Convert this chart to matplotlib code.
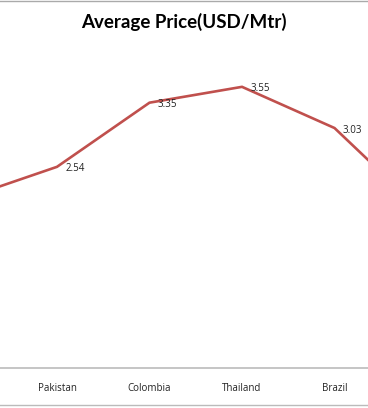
import matplotlib
matplotlib.use("Agg")
import matplotlib.pyplot as plt

# categories (the first and last are cut off in the picture)
countries = ["", "Pakistan", "Colombia", "Thailand", "Brazil", ""]
prices = [2.14, 2.54, 3.35, 3.55, 3.03, 1.92]
shown = [False, True, True, True, True, False]

W, H = 368, 408
fig = plt.figure(figsize=(W / 100, H / 100), dpi=100)

# axes span the whole width; x axis sits at pixel row 368
ax = fig.add_axes([0, (H - 368) / H, 1, 368 / H])
x = list(range(len(countries)))
ax.plot(x, prices, color="#C0504D", lw=1.9, solid_joinstyle="miter")

for xi, p, s in zip(x, prices, shown):
    if s:
        ax.annotate(f"{p:.2f}", (xi, p), xytext=(6, -1.5), textcoords="offset points",
                    ha="left", va="center", fontsize=7, color="#222222",
                    family="Open Sans")

ax.set_xticks(x)
ax.set_xticklabels(countries, fontsize=7, color="#222222", family="Open Sans")
ax.set_xlim(0.384, 4.362)
ax.set_ylim(0, 368 / 79.2)
ax.tick_params(axis="x", length=0, pad=11)
ax.set_yticks([])
for side in ["top", "left", "right"]:
    ax.spines[side].set_visible(False)
ax.spines["bottom"].set_color("#BBBBBB")
ax.spines["bottom"].set_linewidth(1.2)

fig.text(0.5, 1 - 22 / H, "Average Price(USD/Mtr)", ha="center", va="center",
         fontsize=13.5, fontweight="bold", family="Lato")

# thin grey border lines at the top and bottom of the crop
fig.add_artist(plt.Line2D([0, 1], [1 - 0.5 / H, 1 - 0.5 / H], color="#AAAAAA", lw=1))
fig.add_artist(plt.Line2D([0, 1], [1 - 404.5 / H, 1 - 404.5 / H], color="#BBBBBB", lw=1))

fig.savefig("out.png", dpi=100)
